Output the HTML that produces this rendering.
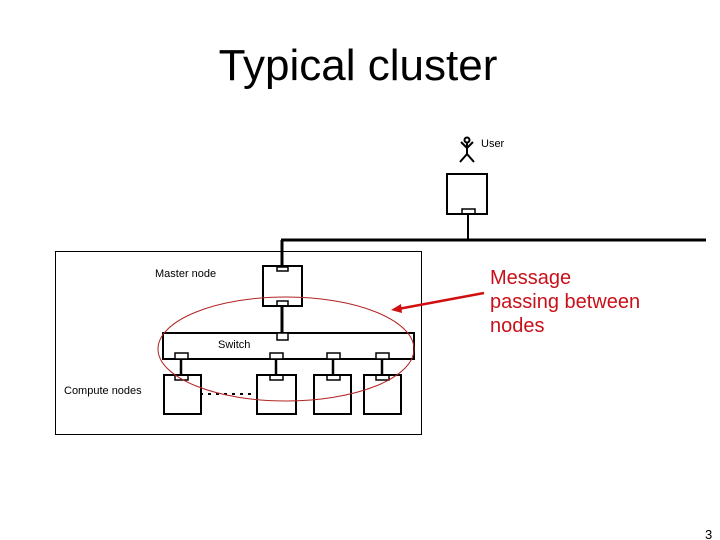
<!DOCTYPE html>
<html><head><meta charset="utf-8"><style>
html,body{margin:0;padding:0;background:#fff;}
svg{display:block;font-family:"Liberation Sans",Arial,sans-serif;}
</style></head><body>
<svg width="720" height="540" viewBox="0 0 720 540" xmlns="http://www.w3.org/2000/svg">
<text x="358" y="80" font-size="44" text-anchor="middle" fill="#000">Typical cluster</text>
<g stroke="#000" stroke-width="2" fill="none">
<circle cx="467" cy="140" r="2.5"/>
<line x1="467" y1="142" x2="467" y2="154"/>
<line x1="461" y1="142" x2="467" y2="148"/>
<line x1="473" y1="142" x2="467" y2="148"/>
<line x1="467" y1="154" x2="460" y2="162"/>
<line x1="467" y1="154" x2="474" y2="162"/>
</g>
<text x="481" y="147" font-size="11">User</text>
<rect x="447" y="174" width="40" height="40" fill="none" stroke="#000" stroke-width="2"/>
<rect x="462" y="209" width="13" height="5" fill="none" stroke="#000" stroke-width="1.5"/>
<line x1="468" y1="214" x2="468" y2="240" stroke="#000" stroke-width="2"/>
<line x1="281" y1="240" x2="706" y2="240" stroke="#000" stroke-width="3"/>
<line x1="282" y1="240" x2="282" y2="267" stroke="#000" stroke-width="3"/>
<rect x="55.5" y="251.5" width="366" height="183" fill="none" stroke="#000" stroke-width="1"/>
<text x="155" y="277" font-size="11">Master node</text>
<rect x="263" y="266" width="39" height="40" fill="#fff" stroke="#000" stroke-width="2"/>
<rect x="277" y="267" width="11" height="4" fill="none" stroke="#000" stroke-width="1.5"/>
<rect x="277" y="301" width="11" height="5" fill="none" stroke="#000" stroke-width="1.5"/>
<line x1="282" y1="306" x2="282" y2="334" stroke="#000" stroke-width="3"/>
<rect x="163" y="333" width="251" height="26" fill="none" stroke="#000" stroke-width="2"/>
<rect x="277" y="333" width="11" height="7" fill="#fff" stroke="#000" stroke-width="1.5"/>
<text x="218" y="348" font-size="11">Switch</text>
<g stroke="#000" stroke-width="1.5" fill="#fff">
<rect x="175" y="353" width="13" height="6"/>
<rect x="270" y="353" width="13" height="6"/>
<rect x="327" y="353" width="13" height="6"/>
<rect x="376" y="353" width="13" height="6"/>
</g>
<g stroke="#000" stroke-width="2.5">
<line x1="181" y1="359" x2="181" y2="375"/>
<line x1="276" y1="359" x2="276" y2="375"/>
<line x1="333" y1="359" x2="333" y2="375"/>
<line x1="382" y1="359" x2="382" y2="375"/>
</g>
<g stroke="#000" stroke-width="2" fill="none">
<rect x="164" y="375" width="37" height="39"/>
<rect x="257" y="375" width="39" height="39"/>
<rect x="314" y="375" width="37" height="39"/>
<rect x="364" y="375" width="37" height="39"/>
</g>
<g stroke="#000" stroke-width="1.5" fill="none">
<rect x="175" y="375" width="13" height="5"/>
<rect x="270" y="375" width="13" height="5"/>
<rect x="327" y="375" width="13" height="5"/>
<rect x="376" y="375" width="13" height="5"/>
</g>
<line x1="200" y1="394" x2="257" y2="394" stroke="#000" stroke-width="2" stroke-dasharray="3,5"/>
<text x="64" y="394" font-size="11">Compute nodes</text>
<ellipse cx="286" cy="349" rx="128" ry="52" fill="none" stroke="#b22222" stroke-width="1"/>
<line x1="484" y1="293" x2="398" y2="309" stroke="#d01010" stroke-width="2.5"/>
<polygon points="391,310 401,304 402,313" fill="#d01010"/>
<g font-size="20" fill="#c8101a">
<text x="490" y="284">Message</text>
<text x="490" y="308">passing between</text>
<text x="490" y="332">nodes</text>
</g>
<text x="705" y="539" font-size="13">3</text>
</svg>
</body></html>
